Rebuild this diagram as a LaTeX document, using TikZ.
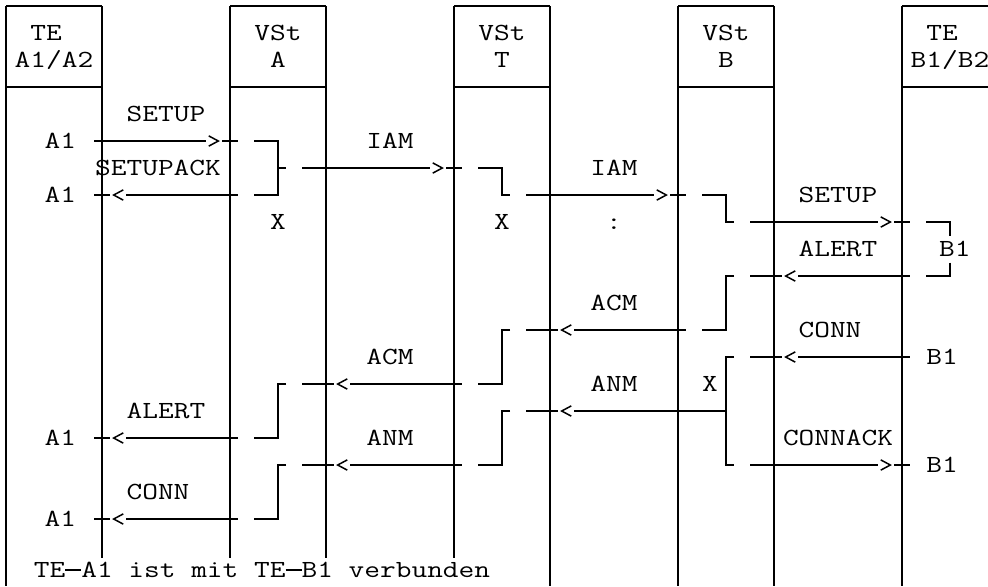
\documentclass[tikz,border=0pt]{standalone}
\usepackage{graphicx}
\tikzset{
  life/.style={line width=0.6pt},
  hline/.style={line width=1pt},
  xt/.style={line width=1.1pt},
  chev/.style={line width=0.75pt, line join=miter},
  lbl/.style={font=\ttfamily\fontsize{12.3pt}{14pt}\selectfont, inner sep=0pt, anchor=base},
}
\newcommand\hseg[3]{\draw[hline] (#1,#3) -- (#2,#3);}
\newcommand\xtick[2]{\draw[xt] (#1,#2-0.5) -- (#1,#2+0.5);}
\newcommand\rchev[2]{\draw[chev] (#1-0.33,#2-0.19) -- (#1+0.27,#2) -- (#1-0.33,#2+0.19);}
\newcommand\lchev[2]{\draw[chev] (#1+0.33,#2-0.19) -- (#1-0.27,#2) -- (#1+0.33,#2+0.19);}
\newcommand\tx[4]{\node[lbl] (#1) at (#2,#3+0.28) {\scalebox{1.24}[1]{#4}};}
\newcommand\mdash{\rule[0.3em]{0.525em}{0.06em}}
\begin{document}
\begin{tikzpicture}[x=8pt,y=-13.5pt]
\useasboundingbox (-0.375,-0.2222) rectangle (61.375,21.4815);
% lifelines
\foreach \c/\e in {0/21.48, 6/20.45, 14/20.45, 20/20.45, 28/20.45, 34/21.48, 42/21.48, 48/21.48, 56/21.48}
  {\draw[life] (\c,0) -- (\c,\e);}
% header boxes
\foreach \a/\b in {0/6, 14/20, 28/34, 42/48, 56/61.375}
  {\draw[hline] (\a,0) -- (\b,0); \draw[hline] (\a,3) -- (\b,3);}
\foreach \c in {0,6,14,20,28,34,42,48,56}
  {\draw[xt] (\c,2.5) -- (\c,3.5); \draw[xt] (\c,0) -- (\c,0.5);}
% header texts
\tx{tA1}{2.5}{1}{TE} \tx{tA2}{3}{2}{A1/A2}
\tx{vA1}{17}{1}{VSt} \tx{vA2}{17}{2}{A}
\tx{vT1}{31}{1}{VSt} \tx{vT2}{31}{2}{T}
\tx{vB1}{45}{1}{VSt} \tx{vB2}{45}{2}{B}
\tx{tB1}{58.5}{1}{TE} \tx{tB2}{59}{2}{B1/B2}
% labels
\tx{l1}{10}{4}{SETUP}
\tx{a1}{3.4}{5}{A1}
\tx{l2}{9.5}{6}{SETUPACK}
\tx{a2}{3.4}{7}{A1}
\tx{l3}{24}{5}{IAM}
\tx{l4}{38}{6}{IAM}
\tx{l5}{52}{7}{SETUP}
\tx{x1}{17}{8}{X}
\tx{x2}{31}{8}{X}
\tx{c1}{38}{8}{:}
\tx{l6}{52}{9}{ALERT}
\tx{b1}{59.3}{9}{B1}
\tx{l7}{38}{11}{ACM}
\tx{l8}{51.5}{12}{CONN}
\tx{l9}{24}{13}{ACM}
\tx{b2}{58.5}{13}{B1}
\tx{l10}{38}{14}{ANM}
\tx{x3}{44}{14}{X}
\tx{l11}{10}{15}{ALERT}
\tx{a3}{3.4}{16}{A1}
\tx{l12}{24}{16}{ANM}
\tx{l13}{52}{16}{CONNACK}
\tx{b3}{58.5}{17}{B1}
\tx{l14}{9.5}{18}{CONN}
\tx{a4}{3.4}{19}{A1}
\tx{foot}{16}{20.9}{TE\mdash A1 ist mit TE\mdash B1 verbunden}
% Row 5
\hseg{5.5}{12.5}{5} \xtick{6}{5} \rchev{13}{5} \hseg{13.5}{14.5}{5} \xtick{14}{5}
\draw[hline] (15.5,5) -| (17,7) -- (15.5,7);
\hseg{17}{17.5}{6}
% Row 6
\hseg{18.5}{26.5}{6} \xtick{20}{6} \rchev{27}{6} \hseg{27.5}{28.5}{6} \xtick{28}{6}
\draw[hline] (29.5,6) -| (31,7) -- (31.5,7);
% Row 7
\hseg{5.5}{6.5}{7} \xtick{6}{7} \lchev{7}{7} \hseg{7.5}{14.5}{7} \xtick{14}{7}
\hseg{32.5}{40.5}{7} \xtick{34}{7} \rchev{41}{7} \hseg{41.5}{42.5}{7} \xtick{42}{7}
\draw[hline] (43.5,7) -| (45,8) -- (45.5,8);
% Row 8
\hseg{46.5}{54.5}{8} \xtick{48}{8} \rchev{55}{8} \hseg{55.5}{56.5}{8} \xtick{56}{8}
\draw[hline] (57.5,8) -| (59,8.5);
\draw[hline] (59,9.5) |- (57.5,10);
% Row 10
\draw[hline] (45.5,10) -| (45,12) -- (43.5,12);
\hseg{46.5}{48.5}{10} \xtick{48}{10} \lchev{49}{10} \hseg{49.5}{56.5}{10} \xtick{56}{10}
% Row 12
\hseg{32.5}{34.5}{12} \xtick{34}{12} \lchev{35}{12} \hseg{35.5}{42.5}{12} \xtick{42}{12}
\draw[hline] (31.5,12) -| (31,14) -- (29.5,14);
% Row 13
\hseg{46.5}{48.5}{13} \xtick{48}{13} \lchev{49}{13} \hseg{49.5}{56.5}{13} \xtick{56}{13}
\draw[hline] (45.5,13) -| (45,17) -- (45.5,17);
% Row 14
\hseg{18.5}{20.5}{14} \xtick{20}{14} \lchev{21}{14} \hseg{21.5}{28.5}{14} \xtick{28}{14}
\draw[hline] (17.5,14) -| (17,16) -- (15.5,16);
% Row 15
\hseg{32.5}{34.5}{15} \xtick{34}{15} \lchev{35}{15} \hseg{35.5}{45}{15} \xtick{42}{15} \xtick{45}{15}
\draw[hline] (31.5,15) -| (31,17) -- (29.5,17);
% Row 16
\hseg{5.5}{6.5}{16} \xtick{6}{16} \lchev{7}{16} \hseg{7.5}{14.5}{16} \xtick{14}{16}
% Row 17
\hseg{18.5}{20.5}{17} \xtick{20}{17} \lchev{21}{17} \hseg{21.5}{28.5}{17} \xtick{28}{17}
\draw[hline] (17.5,17) -| (17,19) -- (15.5,19);
\hseg{46.5}{54.5}{17} \xtick{48}{17} \rchev{55}{17} \hseg{55.5}{56.5}{17} \xtick{56}{17}
% Row 19
\hseg{5.5}{6.5}{19} \xtick{6}{19} \lchev{7}{19} \hseg{7.5}{14.5}{19} \xtick{14}{19}
\end{tikzpicture}
\end{document}
